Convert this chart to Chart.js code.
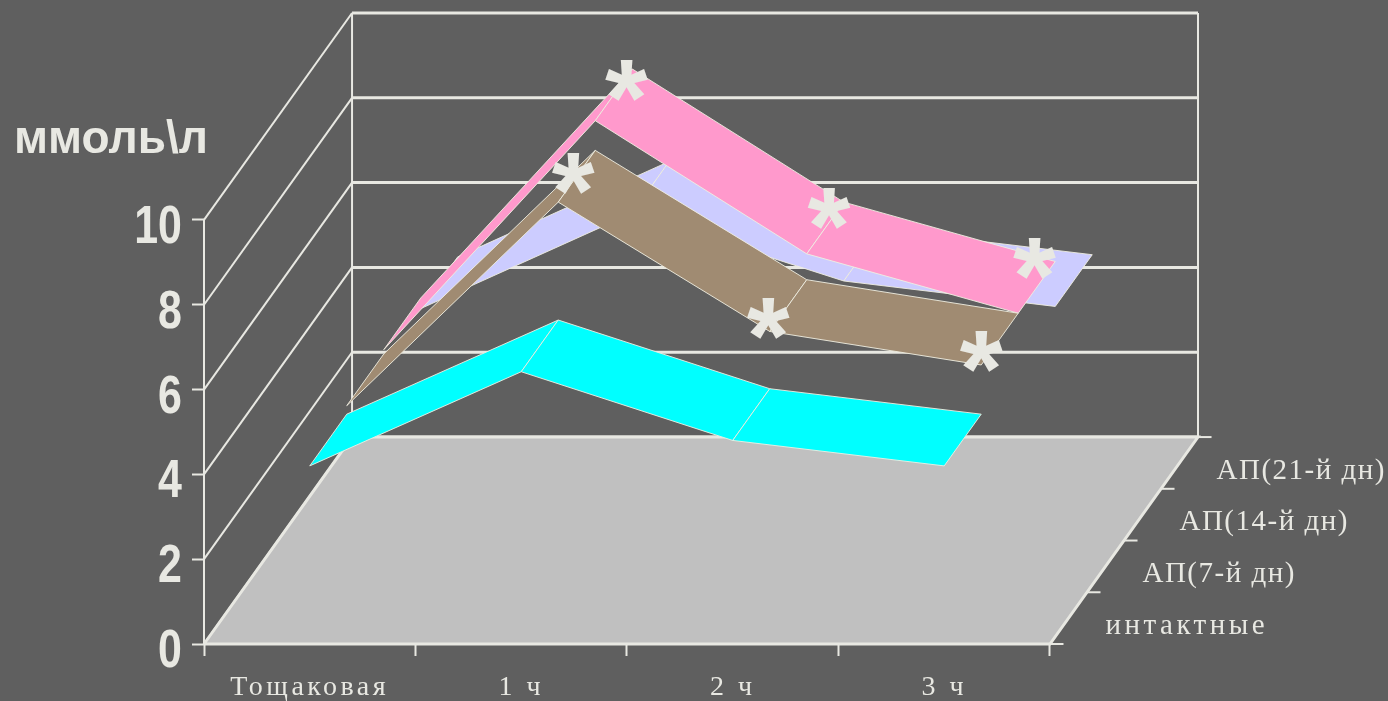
<!DOCTYPE html>
<html lang="ru">
<head>
    <meta charset="UTF-8">
    <title>Глюкоза, ммоль/л</title>
    <script src="https://cdn.jsdelivr.net/npm/chart.js"></script>
    <style>
        html, body { margin: 0; background: #5f5f5f; }
        canvas { display: block; }
    </style>
</head>
<body>
    <canvas id="chart" width="1388" height="701"></canvas>
    <script>
        const categories = ['Тощаковая', '1 ч', '2 ч', '3 ч'];
        const seriesNames = ['интактные', 'АП(7-й дн)', 'АП(14-й дн)', 'АП(21-й дн)'];
        const intact = [4.2, 6.42, 4.8, 4.2];
        const day7 = [4.4, 9.2, 6.15, 5.36];
        const day14 = [4.5, 9.9, 6.76, 5.36];
        const day21 = [4.25, 6.5, 4.9, 4.3];
        const yTicks = [0, 2, 4, 6, 8, 10];

        // significance marks: category index, depth along the floor, height in mmol/l
        const starCategory = [1, 1, 2, 2, 3, 3];
        const starDepth = [0.71, 0.35, 0.65, 0.24, 0.61, 0.25];
        const starValues = [9.86, 9.42, 7.13, 6.53, 6.14, 5.72];

        const seriesValues = [intact, day7, day14, day21];
        const seriesColors = ['#00ffff', '#a08b72', '#ff99cc', '#ccccff'];
        const lineColor = '#e8e8e2';
        const edgeColor = 'rgba(240,238,225,0.9)';

        // oblique projection: moving to the back of the floor shifts right and up
        const depthX = 0.175;
        const depthY = 4.88;
        const yMax = depthY + 10;

        function project(u, depth, value) {
            return { x: u + depth * depthX, y: value + depth * depthY };
        }

        function catU(i) {
            return (i + 0.5) / categories.length;
        }

        function lineDs(points, width) {
            return { data: points, borderColor: lineColor, borderWidth: width, fill: false };
        }

        function polygonDs(points, color, edge, width) {
            return {
                data: points.concat([points[0]]),
                borderColor: edge,
                borderWidth: width,
                backgroundColor: color,
                fill: 'shape'
            };
        }

        const datasets = [];

        // walls
        yTicks.forEach(v => {
            datasets.push(lineDs([project(0, 1, v), project(1, 1, v)], 3));
            datasets.push(lineDs([project(0, 0, v), project(0, 1, v)], 2));
        });
        datasets.push(lineDs([project(0, 1, 0), project(0, 1, 10)], 2));
        datasets.push(lineDs([project(1, 1, 0), project(1, 1, 10)], 2));
        datasets.push(lineDs([project(0, 0, 0), project(0, 0, 10)], 2));

        // floor with its tick marks on the right edge
        datasets.push(polygonDs(
            [project(0, 0, 0), project(1, 0, 0), project(1, 1, 0), project(0, 1, 0)],
            '#c0c0c0', lineColor, 3
        ));
        for (let i = 0; i <= seriesNames.length; i++) {
            const d = i / seriesNames.length;
            const p = project(1, d, 0);
            datasets.push(lineDs([p, { x: p.x + 0.016, y: p.y }], 2));
        }

        // ribbons, back to front
        for (let s = seriesValues.length - 1; s >= 0; s--) {
            const d0 = s / seriesValues.length;
            const d1 = (s + 1) / seriesValues.length;
            const values = seriesValues[s];
            for (let i = 0; i < values.length - 1; i++) {
                datasets.push(polygonDs([
                    project(catU(i), d0, values[i]),
                    project(catU(i + 1), d0, values[i + 1]),
                    project(catU(i + 1), d1, values[i + 1]),
                    project(catU(i), d1, values[i])
                ], seriesColors[s], edgeColor, 1));
            }
        }

        const starIndex = datasets.length;
        datasets.push({
            data: starValues.map((v, i) => project(catU(starCategory[i]), starDepth[i], v)),
            pointRadius: 0,
            showLine: false
        });

        // first dataset in the list gets painted first
        datasets.forEach((ds, i) => {
            ds.order = datasets.length - i;
            ds.pointRadius = 0;
            ds.clip = false;
            if (i !== starIndex) ds.showLine = true;
        });

        const stars = {
            id: 'stars',
            afterDatasetsDraw(chart) {
                const ctx = chart.ctx;
                ctx.save();
                ctx.font = 'bold 110px "Liberation Sans"';
                ctx.fillStyle = lineColor;
                ctx.textAlign = 'center';
                ctx.textBaseline = 'alphabetic';
                chart.getDatasetMeta(starIndex).data.forEach(p => {
                    ctx.fillText('*', p.x, p.y + 56);
                });
                ctx.restore();
                // the category labels are painted right after this hook
                ctx.letterSpacing = '3.5px';
            }
        };

        const sideLabels = {
            id: 'sideLabels',
            afterDraw(chart) {
                const ctx = chart.ctx;
                const { x, y } = chart.scales;
                ctx.save();
                ctx.fillStyle = lineColor;
                ctx.textAlign = 'left';
                ctx.textBaseline = 'middle';
                ctx.font = '29px "Liberation Serif"';
                seriesNames.forEach((name, i) => {
                    const p = project(1, (i + 0.5) / seriesNames.length, 0);
                    ctx.letterSpacing = i === 0 ? '3.5px' : '1.5px';
                    ctx.fillText(name, x.getPixelForValue(p.x) + 37, y.getPixelForValue(p.y) + 8);
                });
                ctx.letterSpacing = '0px';

                ctx.font = 'bold 46px "Liberation Sans"';
                ctx.textBaseline = 'alphabetic';
                ctx.fillText('ммоль\\л', 14, 153);

                // narrow bold value labels
                ctx.font = 'bold 53px "Liberation Sans"';
                ctx.textAlign = 'right';
                yTicks.forEach(v => {
                    ctx.save();
                    ctx.translate(182, y.getPixelForValue(v) + 23);
                    ctx.scale(0.81, 1);
                    ctx.fillText(String(v), 0, 0);
                    ctx.restore();
                });
                ctx.restore();
            }
        };

        new Chart(document.getElementById('chart'), {
            type: 'scatter',
            data: { datasets: datasets },
            plugins: [stars, sideLabels],
            options: {
                responsive: false,
                animation: false,
                events: [],
                layout: { padding: { top: 13, right: 190, left: 0, bottom: 0 } },
                plugins: { legend: { display: false }, tooltip: { enabled: false } },
                scales: {
                    x: {
                        min: 0,
                        max: 1 + depthX,
                        afterFit: scale => {
                            scale.height = 57;
                            scale.paddingLeft = 0;
                            scale.paddingRight = 0;
                        },
                        afterBuildTicks: scale => {
                            // ticks on category borders, labels between them
                            const list = [];
                            for (let i = 0; i <= categories.length * 2; i++) {
                                list.push({ value: i / (categories.length * 2) });
                            }
                            scale.ticks = list;
                        },
                        border: { display: false },
                        grid: {
                            drawOnChartArea: false,
                            tickLength: 12,
                            tickWidth: 2,
                            tickColor: ctx => ctx.index % 2 === 0 ? lineColor : 'transparent'
                        },
                        ticks: {
                            z: 1,
                            autoSkip: false,
                            maxRotation: 0,
                            padding: 15,
                            color: lineColor,
                            font: { family: '"Liberation Serif"', size: 28 },
                            callback: (value, i) => i % 2 === 1 ? categories[(i - 1) / 2] : ''
                        }
                    },
                    y: {
                        min: 0,
                        max: yMax,
                        afterFit: scale => {
                            scale.width = 204;
                            scale.paddingTop = 0;
                            scale.paddingBottom = 0;
                        },
                        afterBuildTicks: scale => {
                            scale.ticks = yTicks.map(v => ({ value: v }));
                        },
                        border: { display: false },
                        grid: {
                            drawOnChartArea: false,
                            tickLength: 12,
                            tickWidth: 2,
                            tickColor: lineColor
                        },
                        ticks: { display: false }
                    }
                }
            }
        });
    </script>
</body>
</html>
